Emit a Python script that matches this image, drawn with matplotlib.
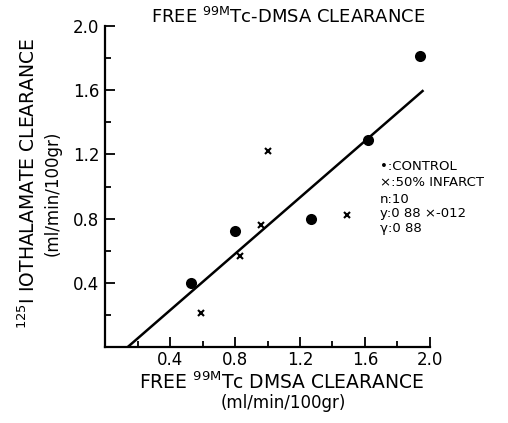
import matplotlib
matplotlib.use("Agg")
import matplotlib.pyplot as plt
from matplotlib.ticker import FixedLocator

plt.rcParams['font.family'] = ['DejaVu Sans']

# Data
control_x = [0.53, 0.80, 1.27, 1.62, 1.94]
control_y = [0.40, 0.72, 0.80, 1.29, 1.81]
infarct_x = [0.59, 0.83, 0.96, 1.00, 1.49]
infarct_y = [0.21, 0.57, 0.76, 1.22, 0.82]
fit_x = [0.14, 1.96]
fit_y = [0.0, 1.60]
tick_vals = [0.4, 0.8, 1.2, 1.6, 2.0]
tick_labels = ["0.4", "0.8", "1.2", "1.6", "2.0"]
minor_vals = [0.2, 0.6, 1.0, 1.4, 1.8]

fig = plt.figure(figsize=(5.08, 4.23), dpi=100)
ax = fig.add_axes([105/508, 1-347/423, (430-105)/508, (347-26)/423])

ax.plot(fit_x, fit_y, color='black', lw=1.8, solid_capstyle='butt')
ax.plot(control_x, control_y, 'o', color='black', ms=8, mew=0)
ax.plot(infarct_x, infarct_y, 'x', color='black', ms=4, mew=1.5)

ax.set_xlim(0, 2.0)
ax.set_ylim(0, 2.0)
for s in ['top', 'right']:
    ax.spines[s].set_visible(False)
for s in ['left', 'bottom']:
    ax.spines[s].set_linewidth(1.6)

ax.xaxis.set_major_locator(FixedLocator(tick_vals))
ax.yaxis.set_major_locator(FixedLocator(tick_vals))
ax.set_xticklabels(tick_labels)
ax.set_yticklabels(tick_labels)
ax.xaxis.set_minor_locator(FixedLocator(minor_vals))
ax.yaxis.set_minor_locator(FixedLocator(minor_vals))
ax.tick_params(axis='both', which='major', direction='in', length=7, width=1.3,
               labelsize=12, pad=4)
ax.tick_params(axis='both', which='minor', direction='in', length=4, width=1.3)
ax.tick_params(axis='x', which='major', pad=3)

fig.text(288/508, 1-17/423, r"FREE $\mathregular{^{99M}}$Tc-DMSA CLEARANCE",
         ha='center', va='center', fontsize=13)
fig.text(282/508, 1-382/423, r"FREE $\mathregular{^{99M}}$Tc DMSA CLEARANCE",
         ha='center', va='center', fontsize=13.5)
fig.text(283/508, 1-403/423, "(ml/min/100gr)", ha='center', va='center', fontsize=12)
fig.text(28/508, 1-183/423, r"$\mathregular{^{125}}$I IOTHALAMATE CLEARANCE",
         ha='center', va='center', rotation=90, fontsize=13.5)
fig.text(53/508, 1-193/423, "(ml/min/100gr)", ha='center', va='center',
         rotation=90, fontsize=12)

leg_x = 380/508
fs = 9.5
fig.text(leg_x, 1-166/423, "\u2022:CONTROL", ha='left', va='center', fontsize=fs)
fig.text(leg_x, 1-182/423, "\u00d7:50% INFARCT", ha='left', va='center', fontsize=fs)
fig.text(leg_x, 1-199/423, "n:10", ha='left', va='center', fontsize=fs)
fig.text(leg_x, 1-213.5/423, "y:0 88 \u00d7-012", ha='left', va='center', fontsize=fs)
fig.text(leg_x, 1-228/423, "\u03b3:0 88", ha='left', va='center', fontsize=fs)

fig.savefig("out.png", dpi=100)
